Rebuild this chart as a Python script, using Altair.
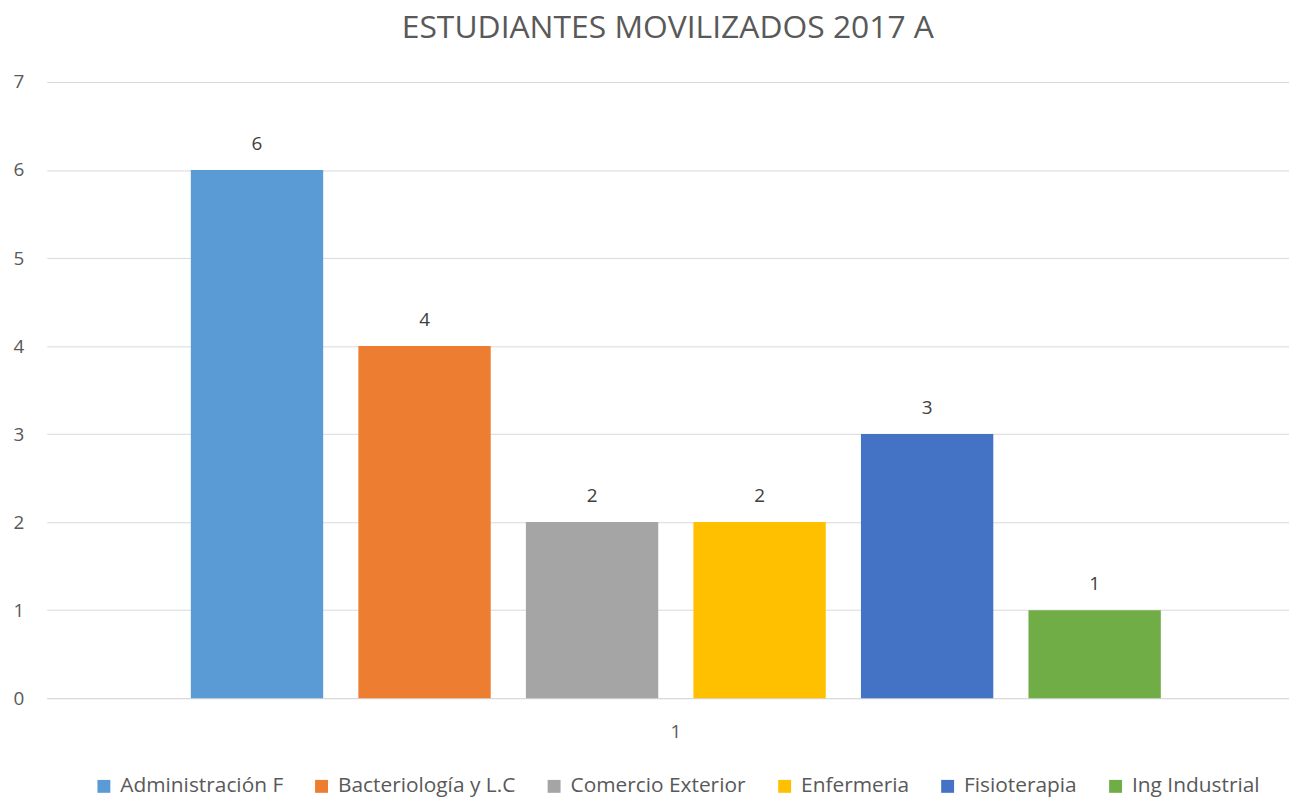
import altair as alt
import pandas as pd

categories = ["Administración F", "Bacteriología y L.C", "Comercio Exterior", "Enfermeria", "Fisioterapia", "Ing Industrial"]
values = [6, 4, 2, 2, 3, 1]
colors = ["#5B9BD5", "#ED7D31", "#A5A5A5", "#FFC000", "#4472C4", "#70AD47"]
group = ["1"] * len(categories)

df = pd.DataFrame({"grupo": group, "programa": categories, "valor": values})

FONT = "Open Sans"
GRAY = "#595959"
W = 1250

base = alt.Chart(df).encode(
    x=alt.X("grupo:N", scale=alt.Scale(paddingInner=0, paddingOuter=0, range=[0, 1266]),
            axis=alt.Axis(title=None, labelAngle=0, ticks=False, domain=True, domainColor="#D9D9D9",
                          labelFontSize=19, labelColor=GRAY, labelFont=FONT, labelPadding=25)),
    xOffset=alt.XOffset("programa:N", sort=categories,
                        scale=alt.Scale(paddingInner=0.21, paddingOuter=0.86)),
    y=alt.Y("valor:Q", scale=alt.Scale(domain=[0, 7]),
            axis=alt.Axis(title=None, values=list(range(0, 8)), ticks=False, domain=False,
                          gridColor="#D9D9D9", labelFontSize=19, labelColor=GRAY, labelFont=FONT,
                          labelPadding=23)),
)

bars = base.mark_bar().encode(
    color=alt.Color("programa:N", sort=categories,
                    scale=alt.Scale(domain=categories, range=colors),
                    legend=alt.Legend(title=None, orient="none", direction="horizontal",
                                      legendX=47, legendY=698, labelLimit=400,
                                      symbolType="square", symbolSize=169, symbolStrokeWidth=0,
                                      labelFontSize=21, labelColor=GRAY, labelFont=FONT,
                                      columnPadding=28, labelOffset=6))
)

labels = base.mark_text(dy=-26, baseline="middle", fontSize=19, color="#404040", font=FONT).encode(
    text="valor:Q"
)

chart = (bars + labels).properties(
    width=W, height=620,
    title=alt.TitleParams("ESTUDIANTES MOVILIZADOS 2017 A", fontSize=32, font=FONT,
                          fontWeight="normal", color=GRAY, offset=28, anchor="middle"),
    autosize=alt.AutoSizeParams(type="none"),
    padding={"left": 39, "top": 72, "right": 0, "bottom": 100},
).configure_view(stroke=None)

chart.save("out.html", embed_options={"renderer": "svg", "actions": False})
